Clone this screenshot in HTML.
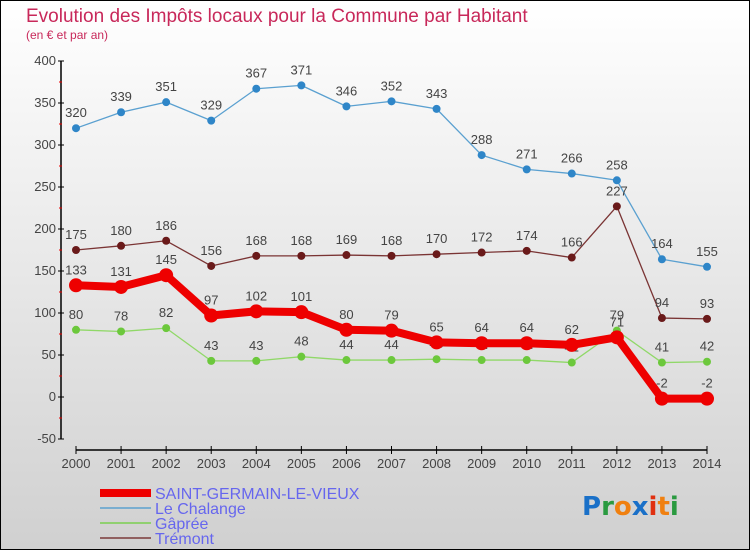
<!DOCTYPE html>
<html><head><meta charset="utf-8"><style>
body{margin:0;width:750px;height:550px;overflow:hidden}
svg{display:block;font-family:"Liberation Sans",sans-serif}
</style></head><body>
<svg id="chart" width="750" height="550" xmlns="http://www.w3.org/2000/svg">
<defs><linearGradient id="bg" x1="0" y1="0" x2="0" y2="1"><stop offset="0" stop-color="#ffffff"/><stop offset="1" stop-color="#d0d0d0"/></linearGradient></defs>
<rect x="0.5" y="0.5" width="749" height="549" fill="url(#bg)" stroke="#000"/>
<text x="26" y="22" font-size="19" fill="#c8285a">Evolution des Impôts locaux pour la Commune par Habitant</text>
<text x="26" y="39" font-size="12" fill="#c8285a">(en € et par an)</text>
<g id="axes"></g>
<g id="series"></g>
<g font-size="16" fill="#6666ee">
<rect x="100" y="489" width="51" height="8" fill="#e00"/>
<text x="155" y="499">SAINT-GERMAIN-LE-VIEUX</text>
<rect x="100" y="507" width="51" height="2" fill="#7aaed0"/>
<text x="155" y="514">Le Chalange</text>
<rect x="100" y="522" width="51" height="2" fill="#90d070"/>
<text x="155" y="529">Gâprée</text>
<rect x="100" y="537" width="51" height="2" fill="#906060"/>
<text x="155" y="544">Trémont</text>
</g>
<g font-size="26" font-weight="600" style="font-family:'DejaVu Sans',sans-serif">
<text x="582" y="515"><tspan fill="#1a70c8">P</tspan><tspan fill="#2a9a40">r</tspan><tspan fill="#f08010">o</tspan><tspan fill="#1a70c8">x</tspan><tspan fill="#e03010">i</tspan><tspan fill="#f08010">t</tspan><tspan fill="#2a9a40">i</tspan></text>
</g>
</svg>
<script>
const years=[2000,2001,2002,2003,2004,2005,2006,2007,2008,2009,2010,2011,2012,2013,2014];
const yTicks=[-50,0,50,100,150,200,250,300,350,400];
const saintGermain=[133,131,145,97,102,101,80,79,65,64,64,62,71,-2,-2];
const leChalange=[320,339,351,329,367,371,346,352,343,288,271,266,258,164,155];
const gapree=[80,78,82,43,43,48,44,44,45,44,44,41,79,41,42];
const tremont=[175,180,186,156,168,168,169,168,170,172,174,166,227,94,93];
const NS="http://www.w3.org/2000/svg";
function xs(i){return 76+i*(707-76)/14;}
function ys(v){return 397-v*0.84;}
function mk(tag,attrs,parent,txt){const e=document.createElementNS(NS,tag);for(const k in attrs)e.setAttribute(k,attrs[k]);if(txt!==undefined)e.textContent=txt;parent.appendChild(e);return e;}
const ax=document.getElementById('axes');
let yl=mk('line',{x1:61,y1:ys(400),x2:61,y2:ys(-50),stroke:'#000','stroke-width':1.5},ax);


yTicks.forEach(t=>{
  mk('line',{x1:58,y1:ys(t),x2:64,y2:ys(t),stroke:'#000'},ax);
  if(t<400)mk('line',{x1:59,y1:ys(t+25),x2:62,y2:ys(t+25),stroke:'#e00'},ax);
  let tl=mk('text',{x:56,y:ys(t)+4,'text-anchor':'end','font-size':13,fill:'#444'},ax,String(t));
  
  
});
let xl=mk('line',{x1:xs(0),y1:450,x2:xs(14),y2:450,stroke:'#000','stroke-width':1.5},ax);


years.forEach((y,i)=>{
  mk('line',{x1:xs(i),y1:446,x2:xs(i),y2:454,stroke:'#000'},ax);
  let tl=mk('text',{x:xs(i),y:468,'text-anchor':'middle','font-size':13,fill:'#444'},ax,String(y));
  
  
});
const sg=document.getElementById('series');
function series(name,vals,color,dot,w,r){
  const g=mk('g',{},sg);
  
  
  mk('polyline',{points:vals.map((v,i)=>xs(i)+','+ys(v)).join(' '),fill:'none',stroke:color,'stroke-width':w,'stroke-linejoin':'round'},g);
  vals.forEach((v,i)=>{
    const c=mk('circle',{cx:xs(i),cy:ys(v),r:r,fill:dot},g);
    
    
    const t=mk('text',{x:xs(i),y:ys(v)-11,'text-anchor':'middle','font-size':13,fill:'#444'},g,String(v));
    
    
  });
}
series('le-chalange-line',leChalange,'#5aa0d0','#2f86c8',1.3,4);
series('tremont-line',tremont,'#7a3434','#6a1a1a',1.3,4);
series('gapree-line',gapree,'#90d868','#6cc83c',1.3,4);
series('saint-germain-line',saintGermain,'#ee0000','#ee0000',8,7);
</script>
</body></html>
